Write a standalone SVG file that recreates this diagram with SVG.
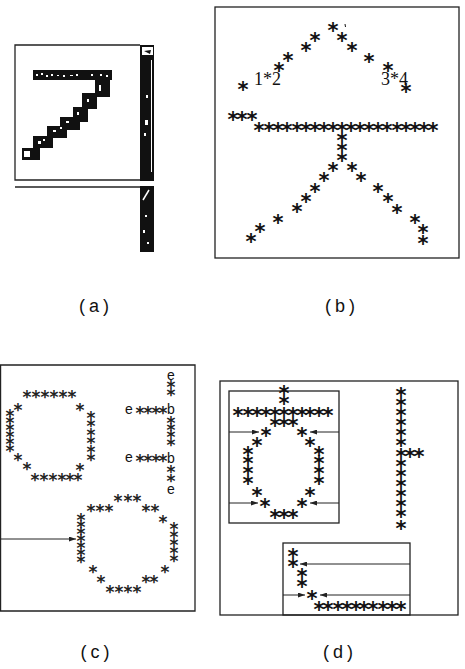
<svg xmlns="http://www.w3.org/2000/svg" width="465" height="669" viewBox="0 0 465 669">
<defs>
<style>
.frame{fill:none;stroke:#222;stroke-width:1.3}
.s{font-family:"DejaVu Sans",sans-serif;font-weight:bold;font-size:21px;text-anchor:middle;fill:#111}
.sl{font-family:"DejaVu Sans",sans-serif;font-weight:bold;font-size:17px;text-anchor:middle;fill:#222}
.ch{font-family:"Liberation Sans",sans-serif;font-size:14px;text-anchor:middle;fill:#111}
.num{font-family:"Liberation Serif",serif;font-size:18px;fill:#111}
.cap{font-family:"Liberation Sans",sans-serif;font-size:18px;text-anchor:middle;letter-spacing:4px;fill:#111}
.blk{fill:#111}
.wh{fill:#fff}
.arr{stroke:#222;stroke-width:1;fill:none;marker-end:url(#ah)}
</style>
<marker id="ah" markerUnits="userSpaceOnUse" markerWidth="7" markerHeight="5" refX="7" refY="2.5" orient="auto">
<path d="M0,0 L7,2.5 L0,5 z" fill="#222"/>
</marker>
</defs>
<rect width="465" height="669" fill="#fff"/>

<!-- Panel (a) -->
<g id="panel-a">
<path class="frame" d="M140,45 L15,45 L15,180 L154,180"/>
<rect class="blk" x="140" y="45" width="14" height="136"/>
<rect class="wh" x="142" y="47" width="11" height="8"/>
<path d="M144,51 L151,50 L150,54 Z" fill="#111"/>
<rect class="wh" x="151" y="60" width="1" height="112"/>
<rect class="wh" x="146" y="95" width="2" height="3"/>
<rect class="wh" x="145" y="120" width="3" height="5"/>
<rect class="wh" x="144" y="133" width="2" height="3"/>
<path class="frame" d="M15,187 L140,187"/>
<rect class="blk" x="140" y="186" width="14" height="66"/>
<path d="M143,200 L149,190" stroke="#fff" stroke-width="1.5"/>
<rect class="wh" x="145" y="215" width="2" height="2"/>
<rect class="wh" x="143" y="230" width="2" height="3"/>
<rect class="wh" x="147" y="242" width="2" height="2"/>
<!-- the "7" -->
<rect class="blk" x="33" y="70" width="79" height="10"/>
<rect class="blk" x="95" y="78" width="15" height="19"/>
<rect class="blk" x="82" y="93" width="15" height="16"/>
<rect class="blk" x="73" y="107" width="15" height="15"/>
<rect class="blk" x="60" y="117" width="20" height="13"/>
<rect class="blk" x="47" y="126" width="20" height="12"/>
<rect class="blk" x="33" y="136" width="20" height="12"/>
<rect class="blk" x="22" y="148" width="18" height="12"/>
<rect class="wh" x="24" y="151" width="6" height="6"/>
<g class="wh">
<rect x="36" y="74" width="2" height="2"/><rect x="41" y="73" width="2" height="2"/><rect x="46" y="75" width="2" height="2"/>
<rect x="51" y="74" width="2" height="2"/><rect x="57" y="75" width="2" height="1"/><rect x="63" y="75" width="2" height="2"/>
<rect x="70" y="75" width="3" height="1"/><rect x="76" y="74" width="2" height="2"/><rect x="91" y="74" width="2" height="2"/>
<rect x="100" y="74" width="2" height="2"/><rect x="106" y="75" width="2" height="2"/>
<rect x="99" y="85" width="2" height="6"/><rect x="87" y="99" width="2" height="3"/><rect x="77" y="112" width="2" height="3"/>
<rect x="66" y="121" width="3" height="2"/><rect x="53" y="130" width="3" height="2"/><rect x="38" y="141" width="3" height="3"/>
<rect x="43" y="139" width="2" height="2"/><rect x="60" y="127" width="2" height="2"/>
</g>
</g>

<!-- Panel (b) -->
<g id="panel-b">
<rect class="frame" x="215" y="7" width="244" height="251"/>
<path d="M345,24 L345.5,27" stroke="#111" stroke-width="1"/>
<text class="num" x="254" y="85">1*2</text>
<text class="num" x="381" y="85">3*4</text>
<g transform="translate(0,11)">
<text class="s" x="333 315 306 288 279 243 342 352 369 388 406" y="27 37 47 57 67 86 37 47 58 67 88">***********</text>
<text class="s" x="233 242 252" y="116">***</text>
<text class="s" x="259 269 278 287 297 306 315 324 333 342 351 360 369 378 387 397 406 415 424 433" y="127">********************</text>
<text class="s" x="342 342 342" y="137 147 157">***</text>
<text class="s" x="333 324 315 306 297 278 260 251" y="167 177 188 198 208 219 228 238">********</text>
<text class="s" x="352 361 378 388 397 415 423 423" y="167 177 188 198 209 219 229 240">********</text>
</g>
</g>

<!-- Panel (c) -->
<g id="panel-c">
<path class="frame" d="M0,365 L195,365 L195,611 L0,611"/>
<line x1="0.6" y1="365" x2="0.6" y2="611" stroke="#222" stroke-width="1.2"/>
<g id="c-shape-top-left" transform="translate(0,9)">
<text class="sl" x="27 36 45 54 63 72" y="394">******</text>
<text class="sl" x="18 80" y="407">**</text>
<text class="sl" x="10 10 10 10 10 10" y="413 420 427 434 441 448">******</text>
<text class="sl" x="91 91 91 91 91 91" y="415 423 432 440 449 457">******</text>
<text class="sl" x="18 27 80" y="457 466 467">***</text>
<text class="sl" x="35 44 53 62 70 78" y="477">******</text>
</g>
<g id="c-shape-eb">
<text class="ch" x="171" y="380">e</text>
<text class="ch" x="171" y="414">b</text>
<text class="ch" x="171" y="463">b</text>
<text class="ch" x="171" y="494">e</text>
<text class="ch" x="129" y="414">e</text>
<text class="ch" x="129" y="462">e</text>
<g transform="translate(0,9)">
<text class="sl" x="171 171" y="384 392">**</text>
<text class="sl" x="140 148 156 163" y="410">****</text>
<text class="sl" x="171 171 171 171" y="420 427 434 442">****</text>
<text class="sl" x="140 148 156 163" y="458">****</text>
<text class="sl" x="171 171" y="469 478">**</text>
</g>
</g>
<g id="c-shape-bottom" transform="translate(0,9)">
<text class="sl" x="118 128 137" y="498">***</text>
<text class="sl" x="91 100 109 146 155" y="508">*****</text>
<text class="sl" x="163" y="519">*</text>
<text class="sl" x="81 81 81 81 81 81 81" y="517 524 531 538 545 552 559">*******</text>
<text class="sl" x="174 174 174 174 174" y="526 534 542 550 558">*****</text>
<text class="sl" x="93 101 146 154 165" y="569 579 579 579 569">*****</text>
<text class="sl" x="110 119 128 137" y="589">****</text>
</g>
</g>

<!-- Panel (d) -->
<g id="panel-d">
<rect class="frame" x="220" y="381" width="238" height="234"/>
<rect id="d-box1" class="frame" x="229" y="391" width="110" height="132"/>
<rect id="d-box2" class="frame" x="283" y="543" width="127" height="72"/>
<g id="d-box1-stars" transform="translate(0,11)">
<text class="s" x="284 284" y="390 400">**</text>
<text class="s" x="238 248 257 266 275 284 293 302 310 319 328" y="412">***********</text>
<text class="s" x="275 284 293" y="422">***</text>
<text class="s" x="266 302" y="432">**</text>
<text class="s" x="257 310" y="442">**</text>
<text class="s" x="248 248 248 248" y="451 460 470 480">****</text>
<text class="s" x="319 319 319 319" y="451 460 470 480">****</text>
<text class="s" x="257 310" y="492">**</text>
<text class="s" x="265 302" y="503">**</text>
<text class="s" x="275 284 293" y="514">***</text>
</g>
<g id="d-vertical" transform="translate(0,11)">
<text class="s" x="401 401 401 401 401 401 401 401 401 401 401 401 401 401" y="392 402 412 422 432 442 453 463 473 483 493 503 513 525">**************</text>
<text class="s" x="410 419" y="453">**</text>
</g>
<g id="d-box2-stars" transform="translate(0,11)">
<text class="s" x="293 293 302 302 312" y="553 563 573 583 595">*****</text>
<text class="s" x="319 328 338 347 356 364 373 383 392 401" y="606">**********</text>
</g>
</g>

<!-- connectors -->
<g id="connectors">
<line class="arr" x1="1" y1="539" x2="76" y2="539"/>
<line class="arr" x1="229" y1="432" x2="259" y2="432"/>
<line class="arr" x1="339" y1="432" x2="310" y2="432"/>
<line class="arr" x1="229" y1="503" x2="258" y2="503"/>
<line class="arr" x1="339" y1="503" x2="310" y2="503"/>
<line class="arr" x1="410" y1="564" x2="300" y2="564"/>
<line class="arr" x1="283" y1="595" x2="305" y2="595"/>
<line class="arr" x1="410" y1="595" x2="320" y2="595"/>
</g>

<!-- captions -->
<g id="captions">
<text class="cap" x="96" y="312">(a)</text>
<text class="cap" x="342" y="312">(b)</text>
<text class="cap" x="97" y="658">(c)</text>
<text class="cap" x="340" y="658">(d)</text>
</g>
</svg>
